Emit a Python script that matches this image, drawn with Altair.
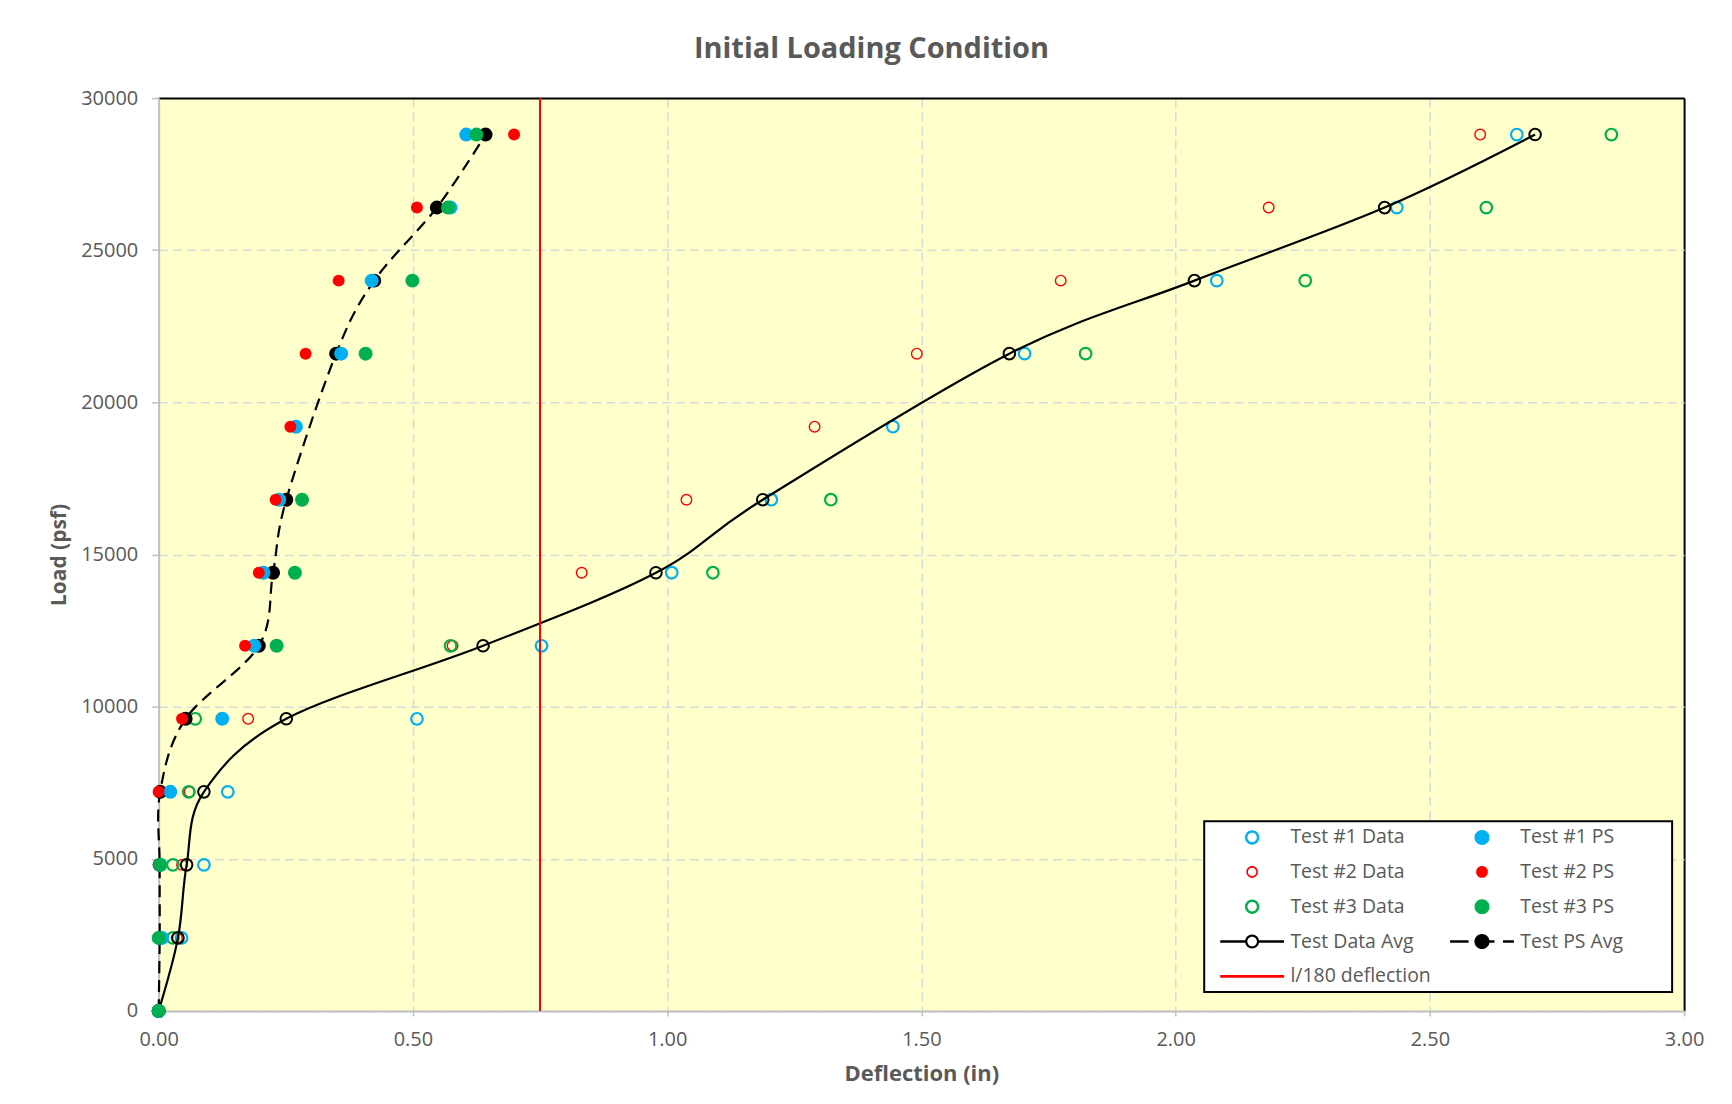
import altair as alt
import pandas as pd

# ---------------- data ----------------
loads = [0, 2400, 4800, 7200, 9600, 12000, 14400, 16800, 19200, 21600, 24000, 26400, 28800]

t1_data = [0, 0.045, 0.089, 0.136, 0.508, 0.753, 1.009, 1.205, 1.444, 1.703, 2.081, 2.435, 2.671]
t2_data = [0, 0.036, 0.046, 0.061, 0.176, 0.578, 0.832, 1.038, 1.290, 1.491, 1.774, 2.183, 2.599]
t3_data = [0, 0.028, 0.028, 0.059, 0.072, 0.574, 1.090, 1.322, None, 1.823, 2.255, 2.611, 2.857]
data_avg = [0, 0.038, 0.055, 0.089, 0.251, 0.638, 0.978, 1.188, None, 1.673, 2.037, 2.411, 2.707]

t1_ps = [0, 0.007, 0.004, 0.023, 0.125, 0.188, 0.206, 0.237, 0.270, 0.359, 0.419, 0.574, 0.605]
t2_ps = [0, 0.002, 0.000, 0.000, 0.046, 0.170, 0.197, 0.230, 0.259, 0.289, 0.354, 0.508, 0.699]
t3_ps = [0, 0.000, 0.003, None, None, 0.232, 0.268, 0.282, None, 0.407, 0.499, 0.569, 0.625]
ps_avg = [0, 0.002, 0.002, 0.003, 0.053, 0.197, 0.225, 0.251, None, 0.349, 0.424, 0.547, 0.643]

l180_defl = [0.75]
l180_load = [0, 30000]

x_ticks = [0, 0.5, 1.0, 1.5, 2.0, 2.5, 3.0]
y_ticks = [0, 5000, 10000, 15000, 20000, 25000, 30000]

legend_names = ["Test #1 Data", "Test #1 PS", "Test #2 Data", "Test #2 PS",
                "Test #3 Data", "Test #3 PS", "Test Data Avg", "Test PS Avg",
                "l/180 deflection"]

BLUE, RED, GREEN, BLACK = "#00B0F0", "#FF0000", "#00B050", "#000000"
GREY_TXT = "#595959"
FONT = "Open Sans"

legend_colors = [BLUE, BLUE, RED, RED, GREEN, GREEN, BLACK, BLACK, RED]

# ---------------- legend symbol shapes ----------------
# legend symbolSize 256 -> one path unit = 8 px; geometry below is given in px
U = 8.0


def _n(v):
    return round(v / U, 4)


def disc(r):
    r = _n(r)
    return f"M{r},0A{r},{r} 0 1,1 {-r},0A{r},{r} 0 1,1 {r},0Z"


def ring(ro, ri):
    ro, ri = _n(ro), _n(ri)
    return (f"M{ro},0A{ro},{ro} 0 1,1 {-ro},0A{ro},{ro} 0 1,1 {ro},0Z"
            f"M{ri},0A{ri},{ri} 0 1,0 {-ri},0A{ri},{ri} 0 1,0 {ri},0Z")


def bar(x0, x1, h=1.3):
    x0, x1, h = _n(x0), _n(x1), _n(h)
    return f"M{x0},{-h}H{x1}V{h}H{x0}Z"


legend_shapes = [
    ring(7.2, 4.7),
    disc(7.5),
    ring(5.8, 4.2),
    disc(5.9),
    ring(7.2, 4.7),
    disc(7.5),
    bar(-32, -6.0) + bar(6.0, 32) + ring(7.0, 4.8),
    bar(-32, -13.5) + bar(3, 12.5) + bar(21, 32) + disc(7.6),
    bar(-32, 32),
]


def frame(vals):
    return pd.DataFrame({"load": loads, "defl": vals}).dropna()


X = alt.X(
    "defl:Q",
    scale=alt.Scale(domain=[0, 3], nice=False, zero=False),
    axis=alt.Axis(
        title="Deflection (in)", values=x_ticks, format=".2f",
        tickSize=5, labelPadding=14, labelBaseline="top", labelFlush=False,
        titleX=764.5, titleY=63, titleBaseline="middle", titleFontSize=22,
        gridColor={"condition": {"test": "datum.value >= 3", "value": BLACK}, "value": "#D9D9D9"},
        gridDash={"condition": {"test": "datum.value >= 3", "value": []}, "value": [9, 5]},
        gridWidth={"condition": {"test": "datum.value >= 3", "value": 2}, "value": 1.5},
    ),
)
Y = alt.Y(
    "load:Q",
    scale=alt.Scale(domain=[0, 30000], nice=False, zero=True),
    axis=alt.Axis(
        title="Load (psf)", values=y_ticks, format="d",
        tickSize=7, labelPadding=14, labelFlush=False,
        titleX=-99, titleY=457.5, titleAngle=-90, titleBaseline="middle", titleAlign="center",
        titleFontSize=21,
        gridColor={"condition": {"test": "datum.value >= 30000", "value": BLACK}, "value": "#D9D9D9"},
        gridDash={"condition": {"test": "datum.value >= 30000", "value": []}, "value": [9, 5]},
        gridWidth={"condition": {"test": "datum.value >= 30000", "value": 2}, "value": 1.5},
    ),
)


def open_pts(vals, color, size, sw):
    return alt.Chart(frame(vals)).mark_point(
        shape="circle", filled=False, stroke=color, strokeWidth=sw, size=size, opacity=1
    ).encode(x=X, y=Y)


def filled_pts(vals, color, size):
    return alt.Chart(frame(vals)).mark_point(
        shape="circle", filled=True, fill=color, size=size, opacity=1, strokeWidth=0
    ).encode(x=X, y=Y)


def smooth_line(vals, dash=None):
    kw = dict(color=BLACK, strokeWidth=2.2, interpolate="cardinal")
    if dash:
        kw["strokeDash"] = dash
    return alt.Chart(frame(vals)).mark_line(**kw).encode(
        x=X, y=Y, order=alt.Order("load:Q")
    )


rule_df = pd.DataFrame({"defl": l180_defl, "load": [l180_load[0]], "load2": [l180_load[1]]})
rule = alt.Chart(rule_df).mark_rule(color=RED, strokeWidth=2).encode(
    x=X, y=Y, y2=alt.Y2("load2:Q")
)

LEG = alt.Legend(
    title=None, orient="none", legendX=1048, legendY=725, columns=2, direction="horizontal",
    padding=6, fillColor="white", strokeColor=BLACK,
    symbolSize=256, symbolStrokeWidth=0, symbolOpacity=1, symbolOffset=32.3,
    labelFont=FONT, labelFontSize=19.5, labelColor=GREY_TXT, labelOffset=28.6,
    rowPadding=13.9, columnPadding=8.4, labelLimit=400,
    # em-spaces (kept by a trailing zero-width char) give the box its right margin
    labelExpr="datum.label == 'Test PS Avg' ? datum.label + '\u2003\u2003\u2009\u200b' : datum.label",
)

legend_df = pd.DataFrame({"series": legend_names, "defl": [0] * 9, "load": [0] * 9})
legend_layer = alt.Chart(legend_df).mark_point(filled=True, opacity=0).encode(
    x=X, y=Y,
    color=alt.Color("series:N", scale=alt.Scale(domain=legend_names, range=legend_colors), legend=LEG),
    shape=alt.Shape("series:N", scale=alt.Scale(domain=legend_names, range=legend_shapes), legend=LEG),
)

layers = [
    legend_layer,
    open_pts(t1_data, BLUE, 135, 2.2),
    open_pts(t2_data, RED, 112, 1.4),
    open_pts(t3_data, GREEN, 135, 2.2),
    smooth_line(data_avg),
    open_pts(data_avg, BLACK, 135, 2.0),
    smooth_line(ps_avg, dash=[12, 7]),
    filled_pts(ps_avg, BLACK, 196),
    filled_pts(t1_ps, BLUE, 196),
    filled_pts(t2_ps, RED, 144),
    filled_pts(t3_ps, GREEN, 196),
    rule,
]

chart = alt.layer(*layers).properties(
    width=1529, height=915,
    autosize=alt.AutoSizeParams(type="none"),
    padding={"left": 151, "top": 89, "right": 40, "bottom": 80},
    title=alt.TitleParams(
        "Initial Loading Condition", font=FONT, fontSize=29, fontWeight="bold",
        color=GREY_TXT, anchor="middle", dx=-50, offset=1, baseline="alphabetic",
    ),
).configure(background="white").configure_view(
    fill="#FFFFCC", stroke=None
).configure_axis(
    domainColor="#BFBFBF", domainWidth=2, tickColor="#BFBFBF", tickWidth=1.5,
    labelFont=FONT, labelFontSize=20, labelColor=GREY_TXT,
    titleFont=FONT, titleFontSize=20, titleFontWeight="bold", titleColor=GREY_TXT,
).configure_legend(strokeWidth=2)

chart.save("out.html", embed_options={"renderer": "svg", "actions": False})
